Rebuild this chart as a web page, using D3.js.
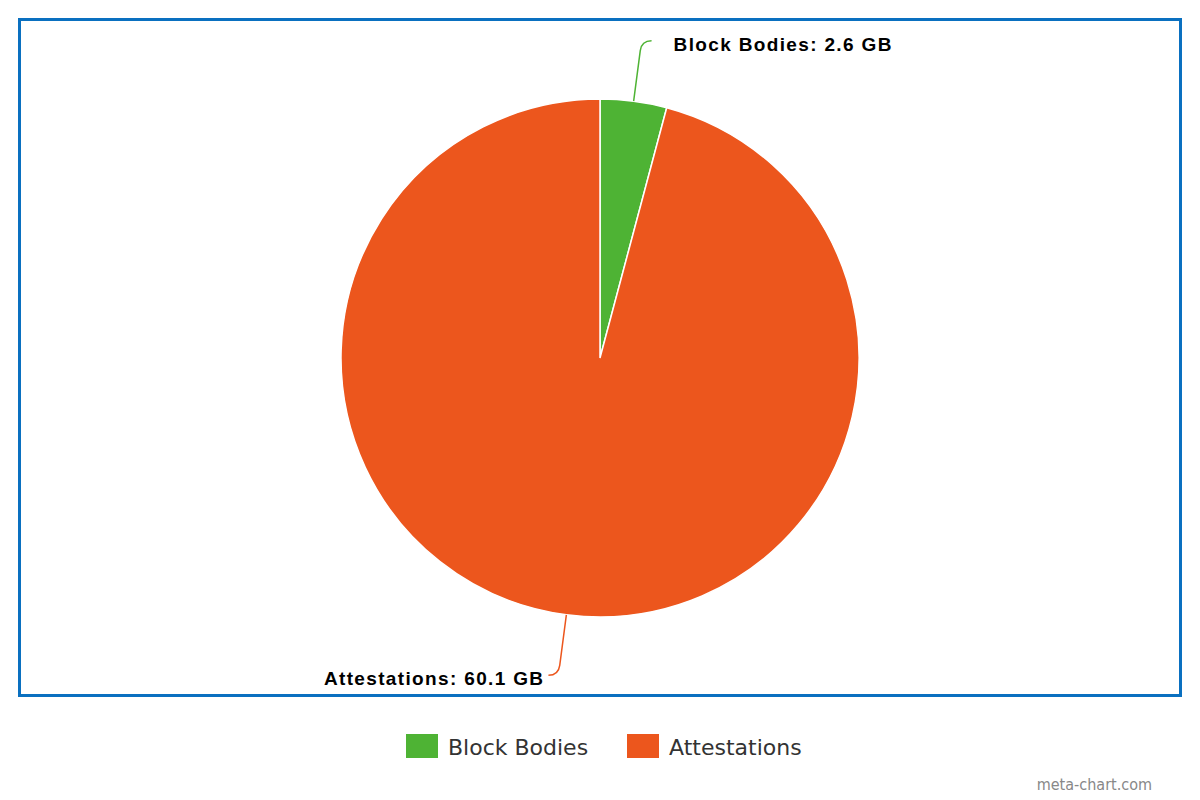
<!DOCTYPE html>
<html><head><meta charset="utf-8">
<script src="https://cdn.jsdelivr.net/npm/d3@7"></script>
<style>body{margin:0;background:#fff}</style>
</head><body>
<svg id="c" width="1200" height="800"></svg>
<script>
const categories = ["Block Bodies", "Attestations"];
const values = [2.6, 60.1];
const unit = "GB";
const colors = ["#4eb334", "#ec561d"];

const svg = d3.select("#c");
svg.append("rect").attr("x",0).attr("y",0).attr("width",1200).attr("height",800).attr("fill","#fff");
svg.append("rect").attr("x",19.5).attr("y",19.5).attr("width",1161).attr("height",676)
  .attr("fill","none").attr("stroke","#0a70c0").attr("stroke-width",3);

const cx = 600, cy = 358, r = 259;
const data = categories.map((c,i)=>({name:c, value:values[i], color:colors[i]}));
const pie = d3.pie().value(d=>d.value).sort(null);
const arcs = pie(data);
const arc = d3.arc().innerRadius(0).outerRadius(r);
const g = svg.append("g").attr("transform",`translate(${cx},${cy})`);
g.selectAll("path.slice").data(arcs).enter().append("path").attr("class","slice")
  .attr("d",arc).attr("fill",d=>d.data.color).attr("stroke","#fff").attr("stroke-width",1.5);

// labels with connectors
arcs.forEach(a=>{
  const mid = (a.startAngle+a.endAngle)/2;
  const sx = Math.sin(mid), sy = -Math.cos(mid);
  const p0 = [r*sx, r*sy];
  const p1 = [(r+51)*sx, (r+51)*sy];
  const right = sx >= 0;
  const pc = [(r+61)*sx, (r+61)*sy];
  const p2 = [pc[0] + (right? 10 : -10), pc[1]];
  g.append("path")
    .attr("d",`M${p0[0]},${p0[1]}L${p1[0]},${p1[1]}Q${pc[0]},${pc[1]} ${p2[0]},${p2[1]}`)
    .attr("fill","none").attr("stroke",a.data.color).attr("stroke-width",1.5);
  g.append("text")
    .attr("x", p2[0] + (right? 22 : -4))
    .attr("y", p2[1] + 3)
    .attr("dy","0.36em")
    .attr("text-anchor", right? "start":"end")
    .attr("font-family","Liberation Sans, Arial, sans-serif")
    .attr("font-weight","bold").attr("font-size",19).attr("letter-spacing","1.35px")
    .attr("fill","#000")
    .text(`${a.data.name}: ${a.data.value} ${unit}`);
});

// legend
const leg = svg.append("g");
const legX = [406, 627];
data.forEach((d,i)=>{
  leg.append("rect").attr("x",legX[i]).attr("y",734).attr("width",32).attr("height",24).attr("fill",d.color);
  leg.append("text").attr("x",legX[i]+42).attr("y",755)
    .attr("font-family","DejaVu Sans, Verdana, sans-serif").attr("font-size",22).attr("fill","#333")
    .text(d.name);
});

svg.append("text").attr("x",1152).attr("y",790).attr("text-anchor","end")
  .attr("font-family","DejaVu Sans Condensed, DejaVu Sans, sans-serif").attr("font-stretch","condensed")
  .attr("font-size",16).attr("fill","#888")
  .text("meta-chart.com");
</script>
</body></html>
